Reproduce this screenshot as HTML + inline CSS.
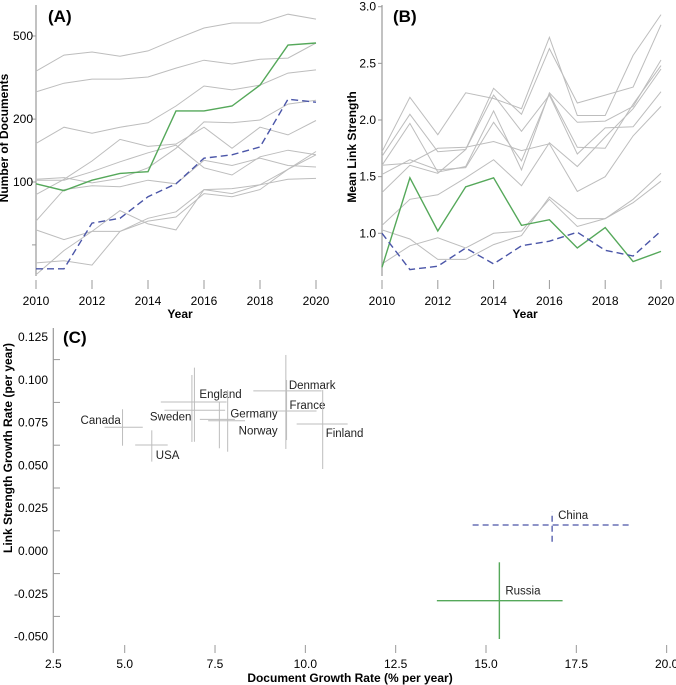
<!DOCTYPE html>
<html><head><meta charset="utf-8"><style>
html,body{margin:0;padding:0;background:#fff;}
svg{display:block;font-family:"Liberation Sans",Arial,sans-serif;}
</style></head><body>
<svg id="fig" width="676" height="685" viewBox="0 0 676 685"></svg>
<script>
const years = [2010,2011,2012,2013,2014,2015,2016,2017,2018,2019,2020];
// Panel A: number of documents
const docsRussia = [98,91,102,110,112,219,219,231,291,452,463];
const docsChina = [38.4,38.4,63.6,67,85,98,130,135,147,249,241];
const docsGray = [
 [339,405,419,400,424,483,546,577,577,636,602],
 [270,297,311,311,318,351,383,367,387,392,463],
 [153,183,171,183,192,231,288,276,291,332,344],
 [87,103,126,160,148,152,183,145,183,168,197],
 [103,105,99,104,117,145,194,192,198,236,246],
 [65,92,96,95,102,98,127,120,130,120,118],
 [59,53,58,58,67,72,92,88,97,103,104],
 [41,42,40,58,65,68,88,85,92,115,135],
 [36,47,58,73,63,59,92,93,97,115,140],
 [102,102,112,125,138,150,117,108,132,142,135]
];
const docsTicks = [500,200,100];
// Panel B: mean link strength
const linkRussia = [0.70,1.49,1.02,1.41,1.49,1.07,1.12,0.87,1.05,0.75,0.84];
const linkChina = [1.00,0.68,0.71,0.87,0.73,0.89,0.93,1.01,0.85,0.80,1.02];
const linkGray = [
 [1.72,2.20,1.87,2.24,2.19,2.10,2.73,2.04,2.04,2.57,2.93],
 [1.68,2.05,1.72,1.74,2.28,2.05,2.63,2.15,2.22,2.29,2.84],
 [1.60,1.97,1.54,1.59,2.08,1.56,2.24,1.98,1.99,2.12,2.53],
 [1.52,1.65,1.56,1.58,1.98,1.64,2.23,1.76,1.75,2.14,2.48],
 [1.36,1.60,1.53,1.74,2.22,1.90,2.22,1.70,1.93,1.94,2.25],
 [1.60,1.62,1.75,1.76,1.81,1.73,1.79,1.37,1.50,1.86,2.12],
 [1.07,1.30,1.34,1.49,1.65,1.42,1.80,1.59,1.85,2.10,2.45],
 [1.03,0.95,0.77,0.77,0.90,0.98,1.32,1.13,1.13,1.30,1.53],
 [0.73,0.89,0.96,0.87,1.00,1.02,1.30,1.06,1.13,1.27,1.46]
];
const linkTicks = [1.0,1.5,2.0,2.5,3.0];
// Panel C: growth rates
const countries = ["Canada","USA","England","Sweden","Germany","Norway","Denmark","France","Finland","China","Russia"];
const docRate = [4.94,5.75,6.93,6.86,7.62,7.85,9.46,9.48,10.48,16.83,15.37];
const docRateLo = [4.44,5.29,6.00,6.10,7.08,7.31,8.56,8.84,9.76,14.63,13.64];
const docRateHi = [5.50,6.19,7.82,7.78,8.05,8.33,10.45,10.31,11.17,19.01,17.12];
const linkRate = [0.0723,0.0619,0.0870,0.0822,0.0769,0.0761,0.0935,0.0818,0.0742,0.0152,-0.0290];
const linkRateLo = [0.0615,0.0522,0.0638,0.0637,0.0600,0.0580,0.0596,0.0648,0.0479,0.0054,-0.0514];
const linkRateHi = [0.0828,0.0705,0.1071,0.1028,0.0872,0.0940,0.1145,0.0999,0.0940,0.0230,-0.0066];
const xTicksC = [2.5,5.0,7.5,10.0,12.5,15.0,17.5,20.0];
const yTicksC = [0.125,0.100,0.075,0.050,0.025,0.000,-0.025,-0.050];

const NS="http://www.w3.org/2000/svg";
const svg=document.getElementById('fig');
function mk(tag,attrs,parent,text){const e=document.createElementNS(NS,tag);for(const k in attrs)e.setAttribute(k,attrs[k]);if(text!==undefined)e.textContent=text;(parent||svg).appendChild(e);return e;}
const GRAY="#bdbdbd",GREEN="#55a85a",BLUE="#4a55a8",AX="#999";

// ---------- Panel A ----------
const ax=y=>36+(y-2010)*28;
const ayA=v=>182-(Math.log10(v)-2)*208.9;
const gA=mk('g',{});


let e=mk('line',{x1:36,y1:5,x2:36,y2:276,stroke:AX,'stroke-width':1.2},gA);

docsTicks.concat([50]).forEach(t=>{mk('line',{x1:32,x2:36,y1:ayA(t),y2:ayA(t),stroke:AX},gA);});
docsTicks.forEach(t=>{e=mk('text',{x:33,y:ayA(t)+4,'text-anchor':'end','font-size':12},gA,String(t));
});
years.forEach(y=>{if(y%2===0){mk('line',{x1:ax(y),x2:ax(y),y1:280,y2:289,stroke:AX},gA);
e=mk('text',{x:ax(y),y:305,'text-anchor':'middle','font-size':12},gA,String(y));
}});
e=mk('text',{x:180,y:318,'text-anchor':'middle','font-size':12,'font-weight':'bold'},gA,'Year');

e=mk('text',{x:0,y:0,'text-anchor':'middle','font-size':12,'font-weight':'bold',transform:'translate(8,138) rotate(-90)'},gA,'Number of Documents');

e=mk('text',{x:48,y:22,'font-size':17,'font-weight':'bold'},gA,'(A)');

function pl(vals,fy){return vals.map((v,i)=>ax(years[i]).toFixed(1)+','+fy(v).toFixed(1)).join(' ');}
docsGray.forEach(s=>{e=mk('polyline',{points:pl(s,ayA),fill:'none',stroke:GRAY,'stroke-width':1},gA);
});
e=mk('polyline',{points:pl(docsRussia,ayA),fill:'none',stroke:GREEN,'stroke-width':1.4},gA);

e=mk('polyline',{points:pl(docsChina,ayA),fill:'none',stroke:BLUE,'stroke-width':1.4,'stroke-dasharray':'7,4'},gA);


// ---------- Panel B ----------
const bx=y=>382+(y-2010)*27.9;
const byB=v=>233.3-(v-1)*113.3;
const gB=mk('g',{});


e=mk('line',{x1:382,y1:5,x2:382,y2:276,stroke:AX,'stroke-width':1.2},gB);

linkTicks.forEach(t=>{mk('line',{x1:378,x2:382,y1:byB(t),y2:byB(t),stroke:AX},gB);
e=mk('text',{x:376,y:byB(t)+4,'text-anchor':'end','font-size':12},gB,t.toFixed(1));
});
years.forEach(y=>{if(y%2===0){mk('line',{x1:bx(y),x2:bx(y),y1:280,y2:289,stroke:AX},gB);
e=mk('text',{x:bx(y),y:305,'text-anchor':'middle','font-size':12},gB,String(y));
}});
e=mk('text',{x:525,y:318,'text-anchor':'middle','font-size':12,'font-weight':'bold'},gB,'Year');

e=mk('text',{x:0,y:0,'text-anchor':'middle','font-size':12,'font-weight':'bold',transform:'translate(356,147) rotate(-90)'},gB,'Mean Link Strength');

e=mk('text',{x:393,y:22,'font-size':17,'font-weight':'bold'},gB,'(B)');

function plB(vals){return vals.map((v,i)=>bx(years[i]).toFixed(1)+','+byB(v).toFixed(1)).join(' ');}
linkGray.forEach(s=>{e=mk('polyline',{points:plB(s),fill:'none',stroke:GRAY,'stroke-width':1},gB);
});
e=mk('polyline',{points:plB(linkRussia),fill:'none',stroke:GREEN,'stroke-width':1.4},gB);

e=mk('polyline',{points:plB(linkChina),fill:'none',stroke:BLUE,'stroke-width':1.4,'stroke-dasharray':'7,4'},gB);


// ---------- Panel C ----------
const cx=v=>124.7+(v-5)*36.13;
const cy=v=>551-v*1712;
const gC=mk('g',{});


e=mk('line',{x1:53.3,y1:328,x2:53.3,y2:653,stroke:AX,'stroke-width':1.2},gC);

yTicksC.forEach(t=>{
 if(t>-0.05) mk('line',{x1:53.3,x2:60,y1:cy(t-0.0132),y2:cy(t-0.0132),stroke:AX},gC);
 e=mk('text',{x:48,y:cy(t)+4,'text-anchor':'end','font-size':12},gC,t.toFixed(3));
 });
xTicksC.forEach(t=>{
 const px=t===2.5?53.3:cx(t);
 if(t>2.5) mk('line',{x1:px,x2:px,y1:645,y2:653,stroke:AX},gC);
 e=mk('text',{x:px,y:668,'text-anchor':'middle','font-size':12},gC,t.toFixed(1));
 });
e=mk('text',{x:350,y:682,'text-anchor':'middle','font-size':12,'font-weight':'bold'},gC,'Document Growth Rate (% per year)');

e=mk('text',{x:0,y:0,'text-anchor':'middle','font-size':12,'font-weight':'bold',transform:'translate(12,448) rotate(-90)'},gC,'Link Strength Growth Rate (per year)');

e=mk('text',{x:63,y:343,'font-size':17,'font-weight':'bold'},gC,'(C)');

const labelOff=[[-42,-3],[4,14],[5,-4],[-42,10],[11,-2],[11,14],[3,-2],[3,-2],[3,13],[6,-6],[6,-6]];
countries.forEach((c,i)=>{
 let col=GRAY,dash=null,w=1;
 if(c==='China'){col=BLUE;dash='6,4';w=1.3;}
 if(c==='Russia'){col=GREEN;w=1.4;}
 const g=mk('g',{},gC);
 
 
 const a={stroke:col,'stroke-width':w};if(dash)a['stroke-dasharray']=dash;
 mk('line',Object.assign({x1:cx(docRateLo[i]),x2:cx(docRateHi[i]),y1:cy(linkRate[i]),y2:cy(linkRate[i])},a),g);
 mk('line',Object.assign({x1:cx(docRate[i]),x2:cx(docRate[i]),y1:cy(linkRateLo[i]),y2:cy(linkRateHi[i])},a),g);
 const t=mk('text',{x:cx(docRate[i])+labelOff[i][0],y:cy(linkRate[i])+labelOff[i][1],'font-size':11.5,fill:'#222'},g,c);
 
 
});
</script>
</body></html>
